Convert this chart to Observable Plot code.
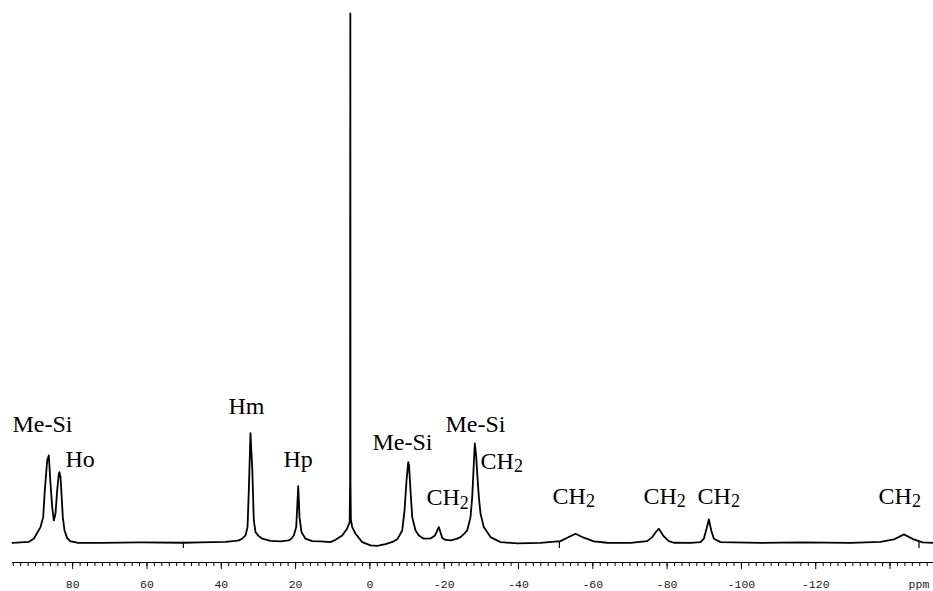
<!DOCTYPE html>
<html>
<head>
<meta charset="utf-8">
<script src="https://cdn.jsdelivr.net/npm/d3@7"></script>
<script src="https://cdn.jsdelivr.net/npm/@observablehq/plot@0.6"></script>
<style>
  html, body { margin: 0; padding: 0; background: #fff; }
  #chart svg { display: block; }
</style>
</head>
<body>
<div id="chart"></div>
<script>
// Spectrum trace: chemical shift (ppm) and relative intensity
const specPpm = [96.2, 94.05, 91.89, 90.47, 88.66, 87.94, 87.51, 86.86, 86.43, 85.97, 85.51, 85.08, 84.63, 84.17, 83.74, 83.55, 83.28, 83.01, 82.66, 82.2, 81.48, 80.59, 78.78, 72.51, 61.74, 50.17, 45.59, 38.87, 36.17, 35.28, 34.29, 33.48, 32.94, 32.59, 32.32, 32.14, 31.92, 31.68, 31.25, 30.79, 29.98, 28.99, 26.75, 24.06, 21.83, 21.1, 20.48, 19.83, 19.56, 19.3, 19.13, 18.95, 18.41, 17.33, 15.53, 13.29, 10.6, 9.25, 7.45, 6.11, 5.45, 5.33, 5.27, 5.22, 5.12, 4.76, 3.87, 2.07, -0.17, -1.97, -4.2, -6.09, -7.43, -8.7, -9.32, -9.86, -10.32, -10.53, -10.93, -11.39, -11.82, -12.28, -13.17, -14.51, -16.32, -17.53, -18.55, -19.47, -20.35, -21.7, -23.32, -24.39, -25.47, -26.19, -27.08, -27.54, -27.97, -28.24, -28.62, -28.89, -29.32, -29.78, -30.66, -32.47, -35.16, -39.66, -45.93, -51.31, -53.11, -55.35, -57.58, -60.27, -63.88, -70.15, -74.65, -75.99, -76.88, -77.77, -79.12, -80.46, -81.81, -86.3, -89.0, -89.88, -90.61, -91.23, -91.88, -92.58, -94.38, -105.15, -115.91, -129.37, -137.45, -141.03, -143.72, -146.41, -148.75, -151.71];
const specInt = [0.09, 0.19, 0.28, 0.89, 3.08, 4.96, 10.0, 15.66, 16.6, 11.26, 6.85, 4.34, 5.6, 10.0, 13.15, 13.45, 12.51, 9.38, 4.96, 2.45, 1.0, 0.38, 0.13, 0.09, 0.19, 0.13, 0.19, 0.28, 0.47, 0.57, 0.94, 1.51, 3.08, 10.0, 16.6, 20.81, 17.55, 14.4, 4.34, 2.13, 1.42, 0.89, 0.47, 0.38, 0.57, 0.94, 1.51, 3.08, 6.85, 10.81, 8.11, 4.96, 2.13, 0.89, 0.43, 0.38, 0.25, 0.70, 1.51, 2.83, 4.0, 11.3, 100, 11.0, 4.5, 3.08, 1.83, 0.25, -0.38, -0.47, -0.13, 0.28, 0.85, 2.45, 6.23, 11.89, 15.34, 14.72, 10.0, 4.96, 3.72, 2.45, 1.51, 0.89, 0.94, 1.51, 3.08, 1.04, 0.66, 0.57, 0.85, 1.19, 1.89, 2.45, 4.96, 8.74, 15.04, 18.87, 16.28, 13.15, 8.74, 5.6, 3.08, 1.19, 0.25, 0, 0.09, 0.43, 1.08, 1.83, 1.08, 0.38, 0.13, 0.09, 0.43, 1.19, 2.08, 2.77, 1.32, 0.43, 0.13, 0.09, 0.25, 0.89, 2.77, 4.53, 2.45, 0.89, 0.25, 0.09, 0.19, 0.09, 0.28, 0.75, 1.7, 0.75, 0.19, 0.09];

// Peak annotations
const labelText = ["Me-Si", "Ho", "Hm", "Hp", "Me-Si", "CH2", "Me-Si", "CH2", "CH2", "CH2", "CH2", "CH2"];
const labelPpm = [96.2, 81.93, 38.06, 23.25, -0.7, -15.24, -20.35, -29.78, -49.16, -73.65, -88.19, -136.91];
const labelInt = [20.94, 14.34, 24.47, 14.4, 17.55, 7.17, 21.0, 14.09, 7.49, 7.49, 7.49, 7.49];

// Axis
const majorTicks = [80, 60, 40, 20, 0, -20, -40, -60, -80, -100, -120, -140];
const majorTickLabels = ["80", "60", "40", "20", "0", "-20", "-40", "-60", "-80", "-100", "-120", ""];
const minorTickStep = 2;
const unitText = ["ppm"];
const unitPpm = [-145];
const markerPpm = [50.2, -51.0, -147.8];

const xDomain = [96.2, -151.7];
const yDomain = [-3.6, 100];

const spectrum = specPpm.map((p, i) => ({ppm: p, intensity: specInt[i]}));
const labels = labelText.map((t, i) => ({text: t, ppm: labelPpm[i], intensity: labelInt[i]}));
const units = unitText.map((t, i) => ({text: t, ppm: unitPpm[i]}));
const minorTicks = d3.range(-150, 97, minorTickStep);

const chart = Plot.plot({
  width: 933,
  height: 591,
  marginLeft: 12,
  marginRight: 0,
  marginTop: 13,
  marginBottom: 29,
  x: {domain: xDomain, axis: null},
  y: {domain: yDomain, axis: null},
  style: {background: "#fff", color: "#000", overflow: "visible"},
  marks: [
    Plot.ruleY([yDomain[0]], {stroke: "#000", strokeWidth: 1}),
    Plot.axisX({ticks: minorTicks, tickSize: 4, tickFormat: () => "", label: null, anchor: "bottom", stroke: "#000"}),
    Plot.axisX({ticks: majorTicks, tickSize: 7, tickPadding: 10.5, label: null, anchor: "bottom",
      tickFormat: d => majorTickLabels[majorTicks.indexOf(d)],
      fontFamily: "Liberation Mono", fontSize: 11.5, stroke: "#000", fill: "#222"}),
    Plot.text(units, {x: "ppm", text: "text", frameAnchor: "bottom", dy: 17.5, lineAnchor: "top", textAnchor: "start",
      fontFamily: "Liberation Mono", fontSize: 11.5, fill: "#222"}),
    Plot.ruleX(markerPpm, {y1: 0.2, y2: -0.95, stroke: "#000", strokeWidth: 1.2}),
    Plot.line(spectrum, {x: "ppm", y: "intensity", stroke: "#000", strokeWidth: 1.8, strokeLinejoin: "round"}),
    Plot.text(labels, {x: "ppm", y: "intensity", text: "text", textAnchor: "start", lineAnchor: "bottom",
      fontFamily: "Liberation Serif", fontSize: 24, fill: "#000"})
  ]
});

// subscript for CH2
d3.select(chart).selectAll("text").filter(function() { return this.textContent === "CH2"; }).each(function() {
  const t = d3.select(this);
  t.text("CH");
  t.append("tspan").attr("font-size", "0.75em").attr("dy", "0.2em").text("2");
});

document.getElementById("chart").append(chart);
</script>
</body>
</html>
